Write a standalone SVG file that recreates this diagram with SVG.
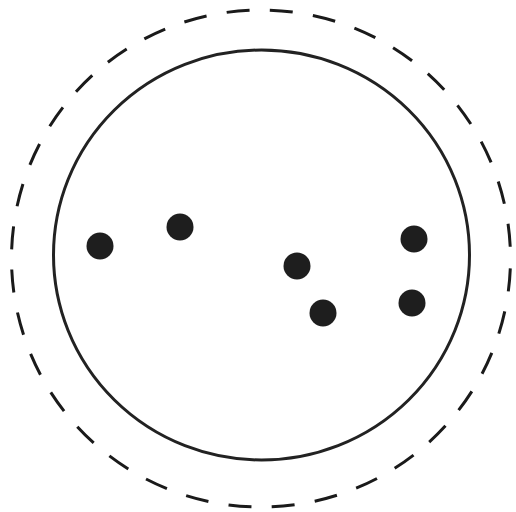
<svg xmlns="http://www.w3.org/2000/svg" width="516" height="512" viewBox="0 0 516 512">
<style>
.outer{fill:none;stroke:#1a1a1a;stroke-width:3;stroke-dasharray:23 20.4;stroke-dashoffset:33.4}
.inner{fill:none;stroke:#222;stroke-width:3}
.dot{fill:#1e1e1e}
</style>
<rect width="516" height="512" fill="#ffffff"/>
<g id="outer-boundary"><ellipse class="outer" cx="261" cy="258.5" rx="249.5" ry="248.5"/></g>
<g id="inner-boundary"><ellipse class="inner" cx="261.5" cy="255" rx="208" ry="205"/></g>
<g id="dots">
<circle id="dot1" class="dot" cx="100" cy="246" r="13.5"/>
<circle id="dot2" class="dot" cx="180" cy="227" r="13.5"/>
<circle id="dot3" class="dot" cx="297" cy="266" r="13.5"/>
<circle id="dot4" class="dot" cx="323" cy="313" r="13.5"/>
<circle id="dot5" class="dot" cx="414" cy="239" r="13.5"/>
<circle id="dot6" class="dot" cx="412" cy="303" r="13.5"/>
</g>
</svg>
